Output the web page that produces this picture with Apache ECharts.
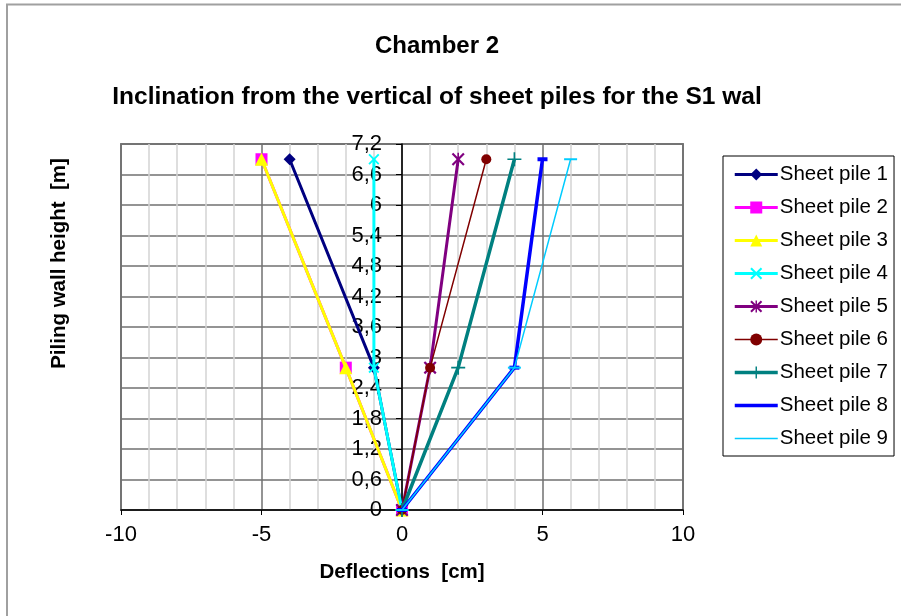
<!DOCTYPE html>
<html>
<head>
<meta charset="utf-8">
<script src="https://cdn.jsdelivr.net/npm/echarts@6/dist/echarts.min.js"></script>
<style>
html,body{margin:0;padding:0;background:#fff;}
#chart{width:901px;height:616px;}
</style>
</head>
<body>
<div id="chart"></div>
<script>
// Heights along the piling wall [m]
const heights = [0, 2.8, 6.9];
// Deflections [cm] at each height, per sheet pile
const seriesNames = ['Sheet pile 1','Sheet pile 2','Sheet pile 3','Sheet pile 4','Sheet pile 5','Sheet pile 6','Sheet pile 7','Sheet pile 8','Sheet pile 9'];
const pile1 = [0, -1, -4];
const pile2 = [0, -2, -5];
const pile3 = [0, -2, -5];
const pile4 = [0, -1, -1];
const pile5 = [0, 1, 2];
const pile6 = [0, 1, 3];
const pile7 = [0, 2, 4];
const pile8 = [0, 4, 5];
const pile9 = [0, 4, 6];
const xTicks = [-10, -5, 0, 5, 10];
const yTickStep = 0.6;

const allPiles = [pile1, pile2, pile3, pile4, pile5, pile6, pile7, pile8, pile9];

const X_PATH = 'path://M0,1.2L1.2,0L5,3.8L8.8,0L10,1.2L6.2,5L10,8.8L8.8,10L5,6.2L1.2,10L0,8.8L3.8,5Z';
const PLUS_PATH = 'path://M4.4,0H5.6V4.4H10V5.6H5.6V10H4.4V5.6H0V4.4H4.4Z';
const AST_PATH = 'path://M0,1.2L1.2,0L5,3.8L8.8,0L10,1.2L6.2,5L10,8.8L8.8,10L5,6.2L1.2,10L0,8.8L3.8,5Z M4.4,0H5.6V10H4.4Z';

const styles = [
  {color:'#000080', width:3,   symbol:'diamond',  size:12},
  {color:'#FF00FF', width:3,   symbol:'rect',     size:12},
  {color:'#FFFF00', width:3,   symbol:'triangle', size:13},
  {color:'#00FFFF', width:3,   symbol:X_PATH,     size:11},
  {color:'#800080', width:3,   symbol:AST_PATH,   size:13},
  {color:'#800000', width:1.5, symbol:'circle',   size:10},
  {color:'#008080', width:3.5, symbol:PLUS_PATH,  size:14},
  {color:'#0000FF', width:3.5, symbol:'rect',     size:[10,4]},
  {color:'#00CCFF', width:1.5, symbol:'rect',     size:[13,2]}
];

const series = allPiles.map((p, i) => ({
  name: seriesNames[i],
  type: 'line',
  data: p.map((d, k) => [d, heights[k]]),
  symbol: styles[i].symbol,
  symbolSize: styles[i].size,
  showSymbol: true,
  lineStyle: {color: styles[i].color, width: styles[i].width},
  itemStyle: {color: styles[i].color, borderWidth: 0},
  emphasis: {disabled: true},
  animation: false,
  z: 3 + i
}));

const legendData = seriesNames.map((n, i) => (i >= 7 ? {name: n, itemStyle: {opacity: 0}} : {name: n}));

const chart = echarts.init(document.getElementById('chart'), null, {renderer:'canvas'});
chart.setOption({
  animation: false,
  backgroundColor: '#ffffff',
  textStyle: {fontFamily: 'Liberation Sans, Arial, sans-serif'},
  graphic: [
    {type:'polyline', shape:{points:[[7,616],[7,4.5],[901,4.5]]}, style:{stroke:'#a0a0a0', lineWidth:2, fill:null}, silent:true},
    {type:'text', x:437, y:46, style:{text:'Chamber 2', font:'bold 24px "Liberation Sans", Arial', fill:'#000', textAlign:'center', textVerticalAlign:'middle'}},
    {type:'text', x:437, y:97, style:{text:'Inclination from the vertical of sheet piles for the S1 wal', font:'bold 24.5px "Liberation Sans", Arial', fill:'#000', textAlign:'center', textVerticalAlign:'middle'}}
  ],
  grid: {left:121, right:218, top:144, bottom:106, outerBoundsMode:'none', containLabel:false, show:true, borderColor:'#808080', borderWidth:2, backgroundColor:'#fff'},
  legend: {
    data: legendData,
    orient: 'vertical',
    left: 723, top: 156,
    padding: [8, 6, 7, 10],
    itemGap: 12,
    itemWidth: 43, itemHeight: 15,
    lineStyle: {width: 'inherit'},
    borderColor: '#000', borderWidth: 1,
    textStyle: {fontSize: 20.5, color:'#000', fontFamily:'Liberation Sans, Arial', padding:[0,0,0,-3]},
    selectedMode: false
  },
  xAxis: {
    type: 'value',
    min: xTicks[0], max: xTicks[xTicks.length-1], interval: 5,
    name: 'Deflections  [cm]',
    nameLocation: 'middle', nameGap: 52,
    nameTextStyle: {fontWeight:'bold', fontSize:20.5, color:'#000', fontFamily:'Liberation Sans, Arial'},
    axisLine: {onZero:false, lineStyle:{color:'#000', width:1.5}},
    axisTick: {show:true, length:5, lineStyle:{color:'#000'}},
    axisLabel: {fontSize:22, color:'#000', margin:14, fontFamily:'Liberation Sans, Arial'},
    splitLine: {show:true, lineStyle:{color:'#707070', width:1.5}},
    minorTick: {show:false, splitNumber:5},
    minorSplitLine: {show:true, lineStyle:{color:'#d4d4d4', width:1.5}}
  },
  yAxis: {
    type: 'value',
    min: 0, max: 7.2, interval: yTickStep,
    position: 'left',
    offset: -281,
    name: 'Piling wall height  [m]',
    nameLocation: 'middle', nameGap: 332,
    nameTextStyle: {fontWeight:'bold', fontSize:20.5, color:'#000', fontFamily:'Liberation Sans, Arial', padding:[0,0,0,127]},
    axisLine: {onZero:false, lineStyle:{color:'#000', width:1.5}},
    axisTick: {show:true, length:6, lineStyle:{color:'#000'}},
    axisLabel: {fontSize:22, color:'#000', margin:20, fontFamily:'Liberation Sans, Arial',
      formatter: v => String(Math.round(v*10)/10).replace('.', ',')},
    splitLine: {show:true, lineStyle:{color:'#707070', width:1.5}}
  },
  series: series
});
</script>
</body>
</html>
